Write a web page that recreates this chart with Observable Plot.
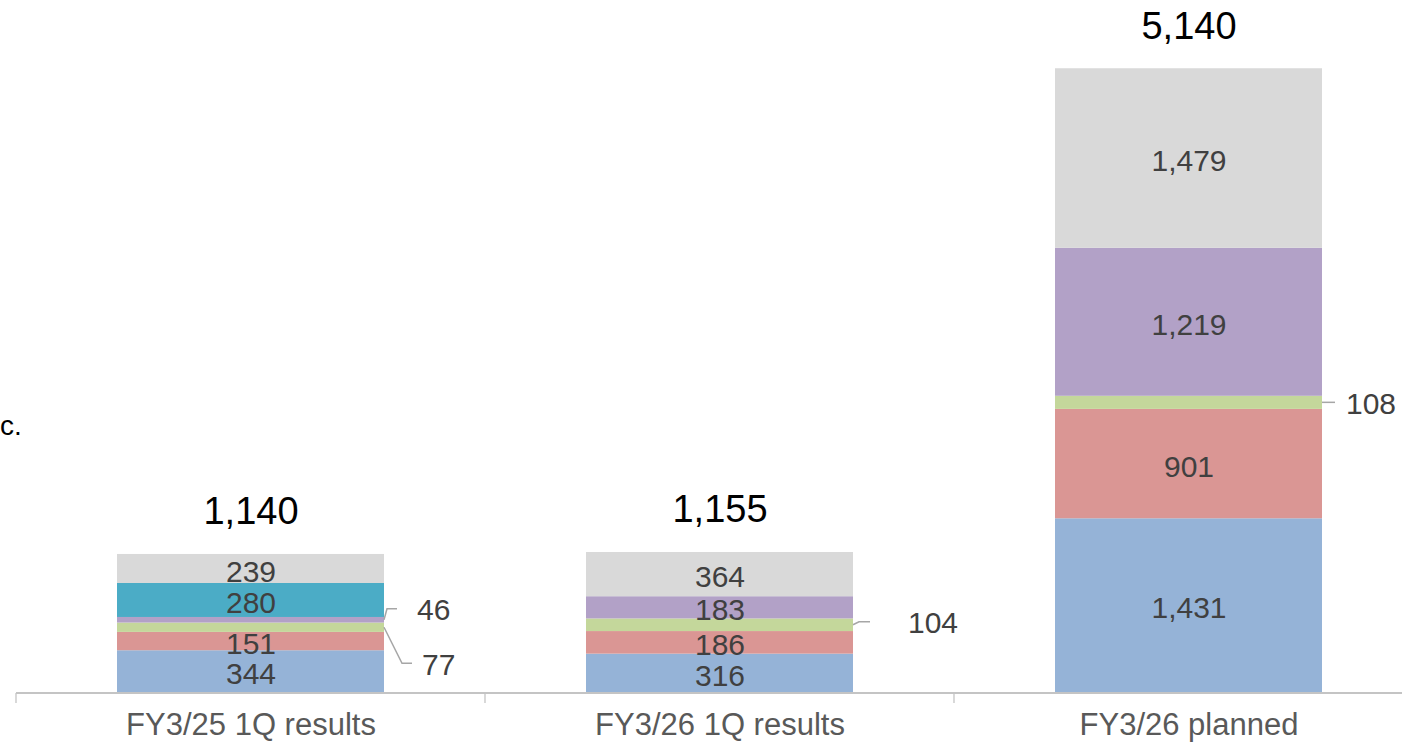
<!DOCTYPE html>
<html>
<head>
<meta charset="utf-8">
<script src="https://cdn.jsdelivr.net/npm/d3@7"></script>
<script src="https://cdn.jsdelivr.net/npm/@observablehq/plot@0.6"></script>
<style>
  html, body { margin: 0; padding: 0; background: #fff; }
  #chart { width: 1402px; height: 747px; overflow: hidden; }
</style>
</head>
<body>
<div id="chart"></div>
<script>
// ---- data ----
const categories = ["FY3/25 1Q results", "FY3/26 1Q results", "FY3/26 planned"];
const seriesNames = ["Segment 1", "Segment 2", "Segment 3", "Segment 4", "Segment 5", "Segment 6"];
const segment1 = [344, 316, 1431];
const segment2 = [151, 186, 901];
const segment3 = [77, 104, 108];
const segment4 = [46, 183, 1219];
const segment5 = [280, 0, 0];
const segment6 = [239, 364, 1479];
const totals = [1140, 1155, 5140];
const totalLabels = ["1,140", "1,155", "5,140"];
const legendFragment = "c.";
// values labelled outside the bar with a leader line: [category index, series index]
const callouts = [[0, 3], [0, 2], [1, 2], [2, 2]];

// ---- styles / layout ----
const seriesColors = ["#95B3D7", "#DA9694", "#C4D79B", "#B2A1C7", "#4BACC6", "#D9D9D9"];
// leader line shape (pixels, relative to bar right edge & segment middle)
const calloutLayout = [
  {elbowDx: 3, elbowDy: -11, endDx: 13, textDx: 33},
  {elbowDx: 18, elbowDy: 36, endDx: 28, textDx: 38},
  {elbowDx: 6, elbowDy: -3, endDx: 17, textDx: 55},
  {elbowDx: 0, elbowDy: 0, endDx: 13, textDx: 24}
];
const FONT = "'Liberation Sans', Arial, Helvetica, sans-serif";

const seriesValues = [segment1, segment2, segment3, segment4, segment5, segment6];
const fmt = d3.format(",");
const isCallout = (ci, si) => callouts.some(([c, s]) => c === ci && s === si);

const rows = [];
categories.forEach((cat, ci) => {
  seriesValues.forEach((vals, si) => {
    if (vals[ci] > 0) rows.push({category: cat, series: seriesNames[si], value: vals[ci], ci, si,
      label: isCallout(ci, si) ? "" : fmt(vals[ci])});
  });
});
const totalRows = categories.map((c, i) => ({category: c, total: totals[i], label: totalLabels[i]}));

function overlay(index, scales) {
  const x = scales.x, y = scales.y;
  const bw = x.bandwidth();
  const step = categories.length > 1 ? x(categories[1]) - x(categories[0]) : bw;
  const gap = (step - bw) / 2;
  const g = d3.create("svg:g");
  const y0 = y(0);
  const left = x(categories[0]) - gap;
  const right = x(categories[categories.length - 1]) + bw + gap;
  // axis baseline and boundary ticks
  g.append("line").attr("x1", left).attr("x2", right).attr("y1", y0 + 1).attr("y2", y0 + 1)
    .attr("stroke", "#C4C4C4").attr("stroke-width", 2);
  for (let i = 0; i <= categories.length; i++) {
    const tx = left + i * step;
    g.append("line").attr("x1", tx).attr("x2", tx).attr("y1", y0 + 1).attr("y2", y0 + 11)
      .attr("stroke", "#C4C4C4").attr("stroke-width", 1.3);
  }
  // callouts
  callouts.forEach(([ci, si], k) => {
    const L = calloutLayout[k];
    let below = 0;
    for (let j = 0; j < si; j++) below += seriesValues[j][ci];
    const v = seriesValues[si][ci];
    const ym = y(below + v / 2);
    const xe = x(categories[ci]) + bw;
    g.append("path")
      .attr("d", `M${xe},${ym}L${xe + L.elbowDx},${ym + L.elbowDy}L${xe + L.endDx},${ym + L.elbowDy}`)
      .attr("fill", "none").attr("stroke", "#A6A6A6").attr("stroke-width", 1.5);
    g.append("text").attr("x", xe + L.textDx).attr("y", ym + L.elbowDy).attr("dy", "0.38em")
      .attr("text-anchor", "start")
      .attr("font-size", 30).attr("font-family", FONT).attr("fill", "#404040").text(fmt(v));
  });
  // legend fragment at the left edge
  g.append("text").attr("x", 0).attr("y", 435).attr("text-anchor", "start")
    .attr("font-size", 28).attr("font-family", FONT).attr("fill", "#000").text(legendFragment);
  return g.node();
}

const chart = Plot.plot({
  width: 1402,
  height: 747,
  marginTop: 0,
  marginLeft: 0,
  marginRight: 0,
  marginBottom: 55,
  style: {fontFamily: FONT, background: "#fff"},
  x: {domain: categories, range: [-84.7, 1524], padding: 0.43, label: null},
  y: {domain: [0, 5140], range: [692, 68], axis: null},
  color: {domain: seriesNames, range: seriesColors},
  marks: [
    Plot.barY(rows, {x: "category", y: "value", fill: "series", inset: 0}),
    Plot.text(rows, Plot.stackY({x: "category", y: "value", z: "series", text: "label",
      fontSize: 30, fill: "#404040", dy: 3})),
    Plot.text(totalRows, {x: "category", y: "total", text: "label", fontSize: 38, fill: "#000",
      dy: -42}),
    Plot.axisX({tickSize: 0, tickPadding: 20, fontSize: 31, fill: "#595959", label: null}),
    overlay
  ]
});
document.getElementById("chart").appendChild(chart);
</script>
</body>
</html>
